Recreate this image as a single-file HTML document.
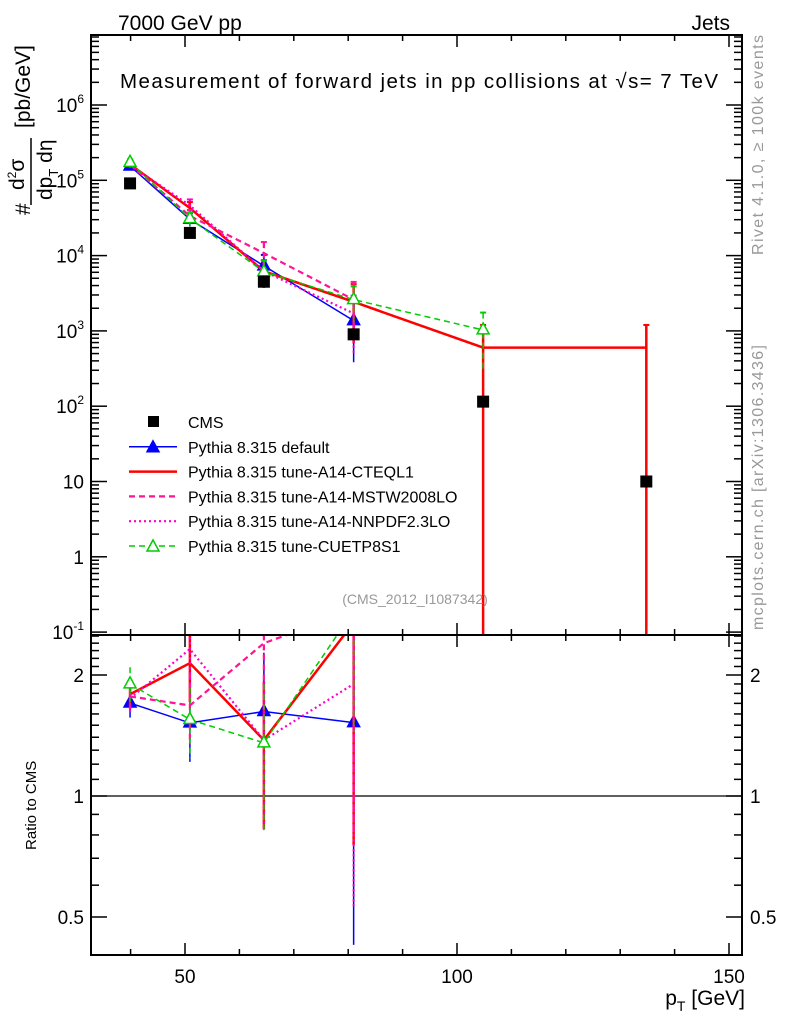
<!DOCTYPE html>
<html><head><meta charset="utf-8"><style>
html,body{margin:0;padding:0;background:#fff;overflow:hidden;width:786px;height:1024px;}
svg{font-family:"Liberation Sans",sans-serif;display:block;}
</style></head><body>
<svg id="c" width="786" height="1024" xmlns="http://www.w3.org/2000/svg">
<g id="plot"></g>
<text x="118" y="30" font-size="21">7000 GeV pp</text>
<text x="730" y="30" font-size="21" text-anchor="end">Jets</text>
<text x="120" y="88" font-size="20.5" textLength="598">Measurement of forward jets in pp collisions at √s= 7 TeV</text>
<text x="415" y="604" font-size="14" fill="#999" text-anchor="middle">(CMS_2012_I1087342)</text>
<text transform="translate(763,255) rotate(-90)" font-size="16" fill="#999" textLength="220">Rivet 4.1.0, ≥ 100k events</text>
<text transform="translate(763,630) rotate(-90)" font-size="16" fill="#999" textLength="285">mcplots.cern.ch [arXiv:1306.3436]</text>
<g font-size="21">
<text transform="translate(30,215) rotate(-90)">#</text>
<text transform="translate(24,190) rotate(-90)">d<tspan font-size="12" dy="-8">2</tspan><tspan dy="8">σ</tspan></text>
<line x1="31" y1="205" x2="31" y2="138" stroke="#000" stroke-width="1.5"/>
<text transform="translate(52,200) rotate(-90)">dp<tspan font-size="13" dy="6">T</tspan><tspan dy="-6"> dη</tspan></text>
<text transform="translate(30,128) rotate(-90)">[pb/GeV]</text>
</g>
<text transform="translate(36,850) rotate(-90)" font-size="15">Ratio to CMS</text>
<text x="745" y="1005" font-size="21" text-anchor="end">p<tspan font-size="14" dy="6">T</tspan><tspan dy="-6"> [GeV]</tspan></text>
</svg>
<script>
const xs=[39.9,50.9,64.5,81,104.8,134.8];
const cms=[9.1e4,2.0e4,4.5e3,900,115,10];
const sDefault=[1.55e5,3.04e4,7.3e3,1.37e3];
const sCTEQ=[1.63e5,4.28e4,6.2e3,2.43e3,600,600];
const sMSTW=[1.61e5,3.36e4,1.08e4,2.6e3];
const sNNPDF=[1.59e5,4.64e4,6.2e3,1.71e3];
const sCUET=[1.73e5,3.1e4,6.1e3,2.6e3,1030];
const relErr=[0.08,0.2,0.4,0.72,1.0,1.0];
const relErrCUET=[0.1,0.2,0.4,0.5,0.7];
const ratioTicks=[0.5,1,2];
const xTicks=[50,100,150];

const NS="http://www.w3.org/2000/svg";
const g=document.getElementById('plot');
const L=91,R=742,T=35,B=635,RB=955;
const X=v=>185+(v-50)*5.44;
const Y=v=>105-75.3*(Math.log10(v)-6);
const RY=v=>796-121*Math.log2(v);
function el(t,a,p){const e=document.createElementNS(NS,t);for(const k in a)e.setAttribute(k,a[k]);(p||g).appendChild(e);return e;}
const clipM=el('clipPath',{id:'cm'});el('rect',{x:L,y:T,width:R-L,height:B-T},clipM);
const clipR=el('clipPath',{id:'cr'});el('rect',{x:L,y:B,width:R-L,height:RB-B},clipR);
const gm=el('g',{'clip-path':'url(#cm)'});
const gr=el('g',{'clip-path':'url(#cr)'});
const ax=el('g',{stroke:'#000','stroke-width':1.5});


for(let v=40;v<=150;v+=10){const maj=v%50==0;const l=maj?12:6;const x=X(v);
[[T,1],[B,-1],[B,1],[RB,-1]].forEach(([y,d])=>el('line',{x1:x,y1:y,x2:x,y2:y+d*l},ax));}
xTicks.forEach(v=>{const t=el('text',{x:X(v),y:983,'font-size':19,'text-anchor':'middle'});t.textContent=v;

});
for(let d=-1;d<=6;d++){for(let m=1;m<10;m++){const v=m*Math.pow(10,d);const y=Y(v);if(y<T||y>B)continue;const l=m==1?16:8;
el('line',{x1:L,y1:y,x2:L+l,y2:y},ax);el('line',{x1:R,y1:y,x2:R-l,y2:y},ax);}
const y=Y(Math.pow(10,d));if(y>=T-2&&y<=B+2){const t=el('text',{x:84,y:y+7,'font-size':19,'text-anchor':'end'});
if(d==0)t.textContent='1';else if(d==1)t.textContent='10';else{t.textContent='10';const s=el('tspan',{'font-size':12,dy:-9},t);s.textContent=d;}

}}
for(let v=0.4;v<2.55;v+=0.1){const y=RY(v);if(y<B||y>RB)continue;const maj=ratioTicks.some(r=>Math.abs(r-v)<1e-6);const l=maj?16:8;
el('line',{x1:L,y1:y,x2:L+l,y2:y},ax);el('line',{x1:R,y1:y,x2:R-l,y2:y},ax);}
ratioTicks.forEach(v=>{const y=RY(v)+7;[[84,'end'],[750,'start']].forEach(([x,a])=>{const t=el('text',{x:x,y:y,'font-size':19,'text-anchor':a});t.textContent=v;

});});
el('line',{x1:L,y1:RY(1),x2:R,y2:RY(1),stroke:'#000','stroke-width':1.2},gr);
el('rect',{x:L,y:T,width:R-L,height:B-T,fill:'none',stroke:'#000','stroke-width':2},ax);
el('rect',{x:L,y:B,width:R-L,height:RB-B,fill:'none',stroke:'#000','stroke-width':2},ax);

const series=[
 {name:'default',d:sDefault,e:relErr,c:'#0000ff',w:1.5,dash:'',m:'tri-fill'},
 {name:'cteql1',d:sCTEQ,e:relErr,c:'#ff0000',w:2.5,dash:'',m:''},
 {name:'mstw2008lo',d:sMSTW,e:relErr,c:'#ff1493',w:2.2,dash:'6,4',m:''},
 {name:'nnpdf23lo',d:sNNPDF,e:relErr,c:'#ff00cc',w:2.2,dash:'2,3',m:''},
 {name:'cuetp8s1',d:sCUET,e:relErrCUET,c:'#00cc00',w:1.5,dash:'6,4',m:'tri-open'}];
function marker(p,x,y,s){if(!s.m)return;el('path',{d:`M${x},${y-7}L${x+6},${y+4}L${x-6},${y+4}Z`,fill:s.m=='tri-fill'?s.c:'#fff',stroke:s.c,'stroke-width':1.5},p);}
series.forEach(s=>{
 const gm2=el('g',{},gm);
 const gr2=el('g',{},gr);
 let pm=[],pr=[];
 s.d.forEach((v,i)=>{pm.push(X(xs[i])+','+Y(v));pr.push(X(xs[i])+','+RY(v/cms[i]));
  const e=s.e[i];const x=X(xs[i]);
  el('line',{x1:x,y1:Y(v*(1+e)),x2:x,y2:Y(Math.max(v*(1-e),1e-3)),stroke:s.c,'stroke-width':s.w,'stroke-dasharray':s.dash},gm2);
  el('line',{x1:x-3,y1:Y(v*(1+e)),x2:x+3,y2:Y(v*(1+e)),stroke:s.c,'stroke-width':2},gm2);
  const r=v/cms[i];
  if(i<4)el('line',{x1:x,y1:RY(r*(1+e)),x2:x,y2:RY(Math.max(r*(1-e),0.01)),stroke:s.c,'stroke-width':s.w,'stroke-dasharray':s.dash},gr2);
 });
 el('polyline',{points:pm.join(' '),fill:'none',stroke:s.c,'stroke-width':s.w,'stroke-dasharray':s.dash},gm2);
 el('polyline',{points:pr.join(' '),fill:'none',stroke:s.c,'stroke-width':s.w,'stroke-dasharray':s.dash},gr2);
 s.d.forEach((v,i)=>{marker(gm2,X(xs[i]),Y(v),s);marker(gr2,X(xs[i]),RY(v/cms[i]),s);});
});
const gc=el('g',{},gm);


cms.forEach((v,i)=>{const r=el('rect',{x:X(xs[i])-6,y:Y(v)-6,width:12,height:12,fill:'#000'},gc);

});
const lg=el('g',{});


const names=['CMS','Pythia 8.315 default','Pythia 8.315 tune-A14-CTEQL1','Pythia 8.315 tune-A14-MSTW2008LO','Pythia 8.315 tune-A14-NNPDF2.3LO','Pythia 8.315 tune-CUETP8S1'];
names.forEach((n,i)=>{const y=422+i*24.8;const e=el('g',{},lg);


if(i==0)el('rect',{x:148,y:y-6,width:11,height:11,fill:'#000'},e);
else{const s=series[i-1];el('line',{x1:129,y1:y,x2:177,y2:y,stroke:s.c,'stroke-width':s.w,'stroke-dasharray':s.dash},e);marker(e,153,y+1,s);}
const t=el('text',{x:188,y:y+6,'font-size':16},e);t.textContent=n;});
</script>
</body></html>
